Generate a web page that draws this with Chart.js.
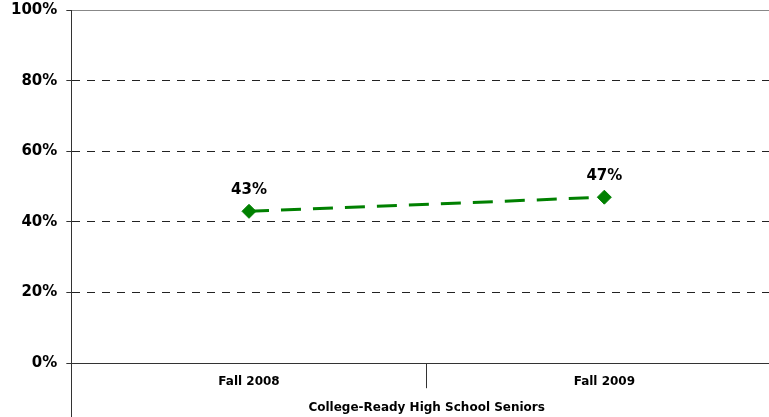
<!DOCTYPE html>
<html>
<head>
<meta charset="utf-8">
<script src="https://cdn.jsdelivr.net/npm/chart.js@4"></script>
<style>
  html, body { margin: 0; padding: 0; background: #fff; overflow: hidden; }
  #wrap { width: 790px; height: 417px; }
</style>
</head>
<body>
<div id="wrap"><canvas id="c" width="790" height="417"></canvas></div>
<script>
const categories = ["Fall 2008", "Fall 2009"];
const seriesValues = [43, 47];
const yTicks = [0, 20, 40, 60, 80, 100];
const axisTitle = "College-Ready High School Seniors";

const FONT = "'DejaVu Sans', Verdana, sans-serif";
const GREEN = "#008000";
const AXIS = "#333333";

const dataLabels = {
  id: "dataLabels",
  afterDatasetsDraw(chart) {
    const ctx = chart.ctx;
    const meta = chart.getDatasetMeta(0);
    ctx.save();
    ctx.font = "bold 15px " + FONT;
    ctx.fillStyle = "#000";
    ctx.textAlign = "center";
    ctx.textBaseline = "alphabetic";
    meta.data.forEach((pt, i) => {
      ctx.fillText(seriesValues[i] + "%", pt.x, pt.y - 17);
    });
    ctx.restore();
  }
};

const axisExtension = {
  id: "axisExtension",
  afterDraw(chart) {
    const ctx = chart.ctx;
    const a = chart.chartArea;
    ctx.save();
    ctx.strokeStyle = AXIS;
    ctx.lineWidth = 1;
    ctx.beginPath();
    ctx.moveTo(Math.round(a.left) + 0.5, a.bottom);
    ctx.lineTo(Math.round(a.left) + 0.5, chart.height);
    ctx.stroke();
    ctx.restore();
  }
};

new Chart(document.getElementById("c"), {
  type: "line",
  data: {
    labels: categories,
    datasets: [{
      data: seriesValues,
      borderColor: GREEN,
      backgroundColor: GREEN,
      borderWidth: 3,
      borderDash: [20, 12],
      pointStyle: "rectRot",
      pointRadius: 7,
      pointHoverRadius: 7,
      pointBorderWidth: 1,
      pointBackgroundColor: GREEN,
      pointBorderColor: GREEN,
      tension: 0,
      fill: false
    }]
  },
  options: {
    responsive: false,
    animation: false,
    events: [],
    layout: { padding: { left: 2, top: 0, right: 1, bottom: 0 } },
    plugins: {
      legend: { display: false },
      tooltip: { enabled: false },
      title: { display: false }
    },
    scales: {
      x: {
        type: "category",
        offset: true,
        grid: {
          offset: true,
          drawOnChartArea: false,
          drawTicks: true,
          tickLength: 25,
          color: AXIS,
          tickColor: AXIS,
          lineWidth: 1
        },
        border: { display: true, color: AXIS, width: 1 },
        ticks: {
          padding: -14,
          color: "#000",
          font: { family: FONT, size: 12, weight: "bold" },
          maxRotation: 0,
          autoSkip: false
        },
        title: {
          display: true,
          text: axisTitle,
          color: "#000",
          font: { family: FONT, size: 12, weight: "bold" },
          padding: { top: 26, bottom: 2 }
        }
      },
      y: {
        min: 0,
        max: 100,
        afterBuildTicks(scale) {
          scale.ticks = yTicks.map(v => ({ value: v }));
        },
        afterFit(scale) {
          scale.paddingTop = 10;
          scale.paddingBottom = 10;
        },
        grid: {
          color: (c) => (c.tick && c.tick.value === 100) ? "#888888" : "#222222",
          lineWidth: 1,
          drawTicks: true,
          tickLength: 5,
          tickColor: AXIS,
          tickBorderDash: []
        },
        border: {
          display: true,
          color: AXIS,
          width: 1,
          dash: (c) => (c.tick && c.tick.value === 100) ? [] : [8, 7]
        },
        ticks: {
          padding: 9,
          color: "#000",
          font: { family: FONT, size: 15, weight: "bold" },
          callback: (v) => v + "%"
        }
      }
    }
  },
  plugins: [dataLabels, axisExtension]
});
</script>
</body>
</html>
